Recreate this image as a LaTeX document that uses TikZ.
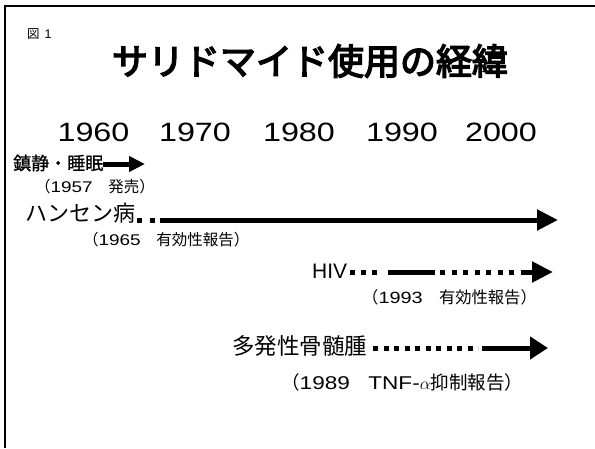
\documentclass[tikz,border=0pt]{standalone}
\usepackage{fontspec}
\setmainfont{Liberation Sans}
\newfontfamily\jp{Noto Sans CJK JP}
\newfontfamily\jpb[FakeBold=1]{Noto Sans CJK JP}
\newfontfamily\jptitle[FakeBold=4]{Noto Sans CJK JP}
\newfontfamily\wide[FakeStretch=1.22]{Liberation Sans}
\usetikzlibrary{arrows.meta}
\newcommand{\fs}[1]{\fontsize{#1pt}{#1pt}\selectfont}
\tikzset{
  lbl/.style={inner sep=0pt, anchor=west},
  yr/.style={inner sep=0pt, font=\wide\fs{26.5}},
  shaft/.style={line width=5pt},
  dots/.style={line width=5pt, dash pattern=on 5pt off 6pt},
}
\begin{document}
\begin{tikzpicture}[x=1pt,y=-1pt]
\useasboundingbox (0,0) rectangle (595,448);
% frame
\draw[line width=2pt] (5,448) -- (5,6) -- (595,6);
% caption and title
\node[lbl] (fig) at (27,34) {\jp\fs{12.5}図\hspace{5pt}{\rmfamily 1}};
\node[inner sep=0pt] (title) at (310,61) {\jptitle\fs{36}サリドマイド使用の経緯};
% years
\node[yr] (y60) at (93.5,132.5) {1960};
\node[yr] (y70) at (195,132.5) {1970};
\node[yr] (y80) at (299,132.5) {1980};
\node[yr] (y90) at (402,132.5) {1990};
\node[yr] (y00) at (501,132.5) {2000};
% sedation
\node[lbl] (sed) at (13,163) {\jpb\fs{18}鎮静・睡眠};
\node[lbl] (sedn) at (35,187) {\fs{15.5}{\jp （}{\wide 1957}{\jp 　発売）}};
\coordinate (s1a) at (103,164);
\coordinate (s1b) at (145,164);
\draw[shaft,-{Triangle[length=16pt,width=15pt]}] (s1a) -- (s1b);
% leprosy
\node[lbl] (lep) at (25,213) {\jp\fs{22}ハンセン病};
\node[lbl] (lepn) at (83,240) {\fs{15.5}{\jp （}{\wide 1965}{\jp 　有効性報告）}};
\coordinate (l1) at (137,220);
\coordinate (l2) at (156,220);
\coordinate (l3) at (160,220);
\coordinate (l4) at (558,220);
\draw[line width=5pt,dash pattern=on 5pt off 8pt] (l1) -- (l2);
\draw[shaft,-{Triangle[length=21pt,width=20pt]}] (l3) -- (l4);
% HIV
\node[inner sep=0pt,anchor=base west] (hiv) at (312,278) {\fs{21}HIV};
\node[lbl] (hivn) at (362,297) {\fs{16.3}{\jp （}{\wide 1993}{\jp 　有効性報告）}};
\coordinate (h1) at (350,272);
\coordinate (h2) at (377,272);
\coordinate (h3) at (388,272);
\coordinate (h4) at (435,272);
\coordinate (h5) at (440,272);
\coordinate (h6) at (526,272);
\coordinate (h7) at (553,272);
\draw[dots] (h1) -- (h2);
\draw[shaft] (h3) -- (h4);
\draw[line width=5pt,dash pattern=on 5pt off 6.5pt] (h5) -- (h6);
\draw[shaft,-{Triangle[length=21pt,width=20pt]}] (h6) -- (h7);
% myeloma
\node[lbl] (mm) at (232,346) {\jp\fs{22.5}多発性骨髄腫};
\node[lbl] (mmn) at (281,382) {\fs{18.5}{\jp （}{\wide 1989}{\jp 　}{\wide TNF-}$\alpha${\jp 抑制報告）}};
\coordinate (m1) at (373,348);
\coordinate (m2) at (478,348);
\coordinate (m3) at (482,348);
\coordinate (m4) at (548,348);
\draw[line width=5pt,dash pattern=on 5pt off 5.5pt] (m1) -- (m2);
\draw[shaft,-{Triangle[length=18pt,width=22pt]}] (m3) -- (m4);
\end{tikzpicture}
\end{document}
